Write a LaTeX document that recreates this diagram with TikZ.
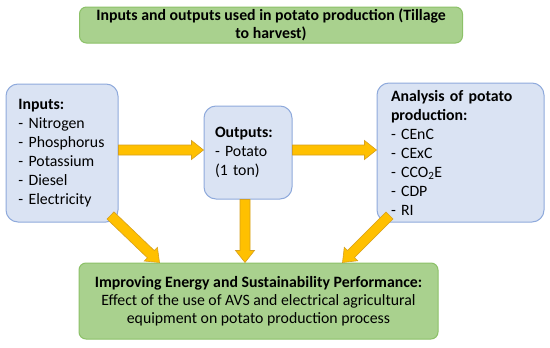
\documentclass[tikz,border=0pt]{standalone}
\usepackage{fontspec}
\setmainfont{Carlito}
\usetikzlibrary{calc}
\definecolor{mygreen}{RGB}{169,209,142}
\definecolor{mygreenline}{RGB}{140,193,104}
\definecolor{myblue}{RGB}{218,227,243}
\definecolor{mybluel}{RGB}{143,170,220}
\definecolor{myorange}{RGB}{255,192,0}
\definecolor{myorangel}{RGB}{214,160,30}

\tikzset{
  greenbox/.style={draw=mygreenline, fill=mygreen, rounded corners=7pt, line width=1pt,
    align=center, inner sep=0pt, font=\fontsize{15.8}{18}\selectfont},
  bluebox/.style={draw=mybluel, fill=myblue, rounded corners=12pt, line width=1pt,
    align=left, inner ysep=0pt,
    font={\fontsize{15.8}{19}\selectfont\hyphenpenalty=10000\exhyphenpenalty=10000\hbadness=10000\hfuzz=10pt\relax}},
}

% thick yellow arrow between two points
\newcommand{\fatarrow}[2]{%
  \path[fill=myorange, draw=myorangel, line width=0.6pt]
    let \p1=#1, \p2=#2, \n1={atan2(\y2-\y1,\x2-\x1)}, \n2={veclen(\x2-\x1,\y2-\y1)} in
    [shift={(\p1)}, rotate=\n1]
    (0,-5) -- (\n2-12,-5) -- (\n2-12,-9.5) -- (\n2,0) -- (\n2-12,9.5) -- (\n2-12,5) -- (0,5) -- cycle;}

\begin{document}
\begin{tikzpicture}[x=1pt,y=-1pt]

\useasboundingbox (0,0) rectangle (550,348);
\fill[white] (0,0) rectangle (550,348);

\node[greenbox, minimum width=383pt, minimum height=36pt] (title) at (271,25)
  {\bfseries Inputs and outputs used in potato production (Tillage\\\bfseries to harvest)};

\node[bluebox, minimum height=138pt, text width=87pt, inner xsep=12.5pt] (inputs) at (62,153)
  {\textbf{Inputs:}\\-~Nitrogen\\-~Phosphorus\\-~Potassium\\-~Diesel\\-~Electricity};

\node[bluebox, minimum height=93pt, text width=66pt, inner xsep=11pt] (outputs) at (248,152.5)
  {\textbf{Outputs:}\\-~Potato\\(1 ton)};

\node[bluebox, minimum height=139pt, text width=139pt, inner xsep=14pt] (analysis) at (460.5,152.5)
  {\textbf{Analysis of potato}\\\textbf{production:}\\-~CEnC\\-~CExC\\-~CCO\textsubscript{2}E\\-~CDP\\-~RI};

\node[greenbox, minimum width=359pt, minimum height=76pt] (bottom) at (258.5,301)
  {\textbf{Improving Energy and Sustainability Performance:}\\
   Effect of the use of AVS and electrical agricultural\\
   equipment on potato production process};

\fatarrow{([yshift=3pt]inputs.east)}{([yshift=2.5pt]outputs.west)}
\fatarrow{([yshift=2.5pt]outputs.east)}{([yshift=2.5pt]analysis.west)}
\fatarrow{($(outputs.south)+(-3pt,0)$)}{($(outputs.south |- bottom.north)+(-3pt,0)$)}
\fatarrow{($(inputs.south east)+(-8pt,7pt)$)}{($(bottom.north west)+(81pt,0)$)}
\fatarrow{($(analysis.south west)+(13pt,7pt)$)}{($(bottom.north east)+(-96pt,0)$)}

\end{tikzpicture}
\end{document}
